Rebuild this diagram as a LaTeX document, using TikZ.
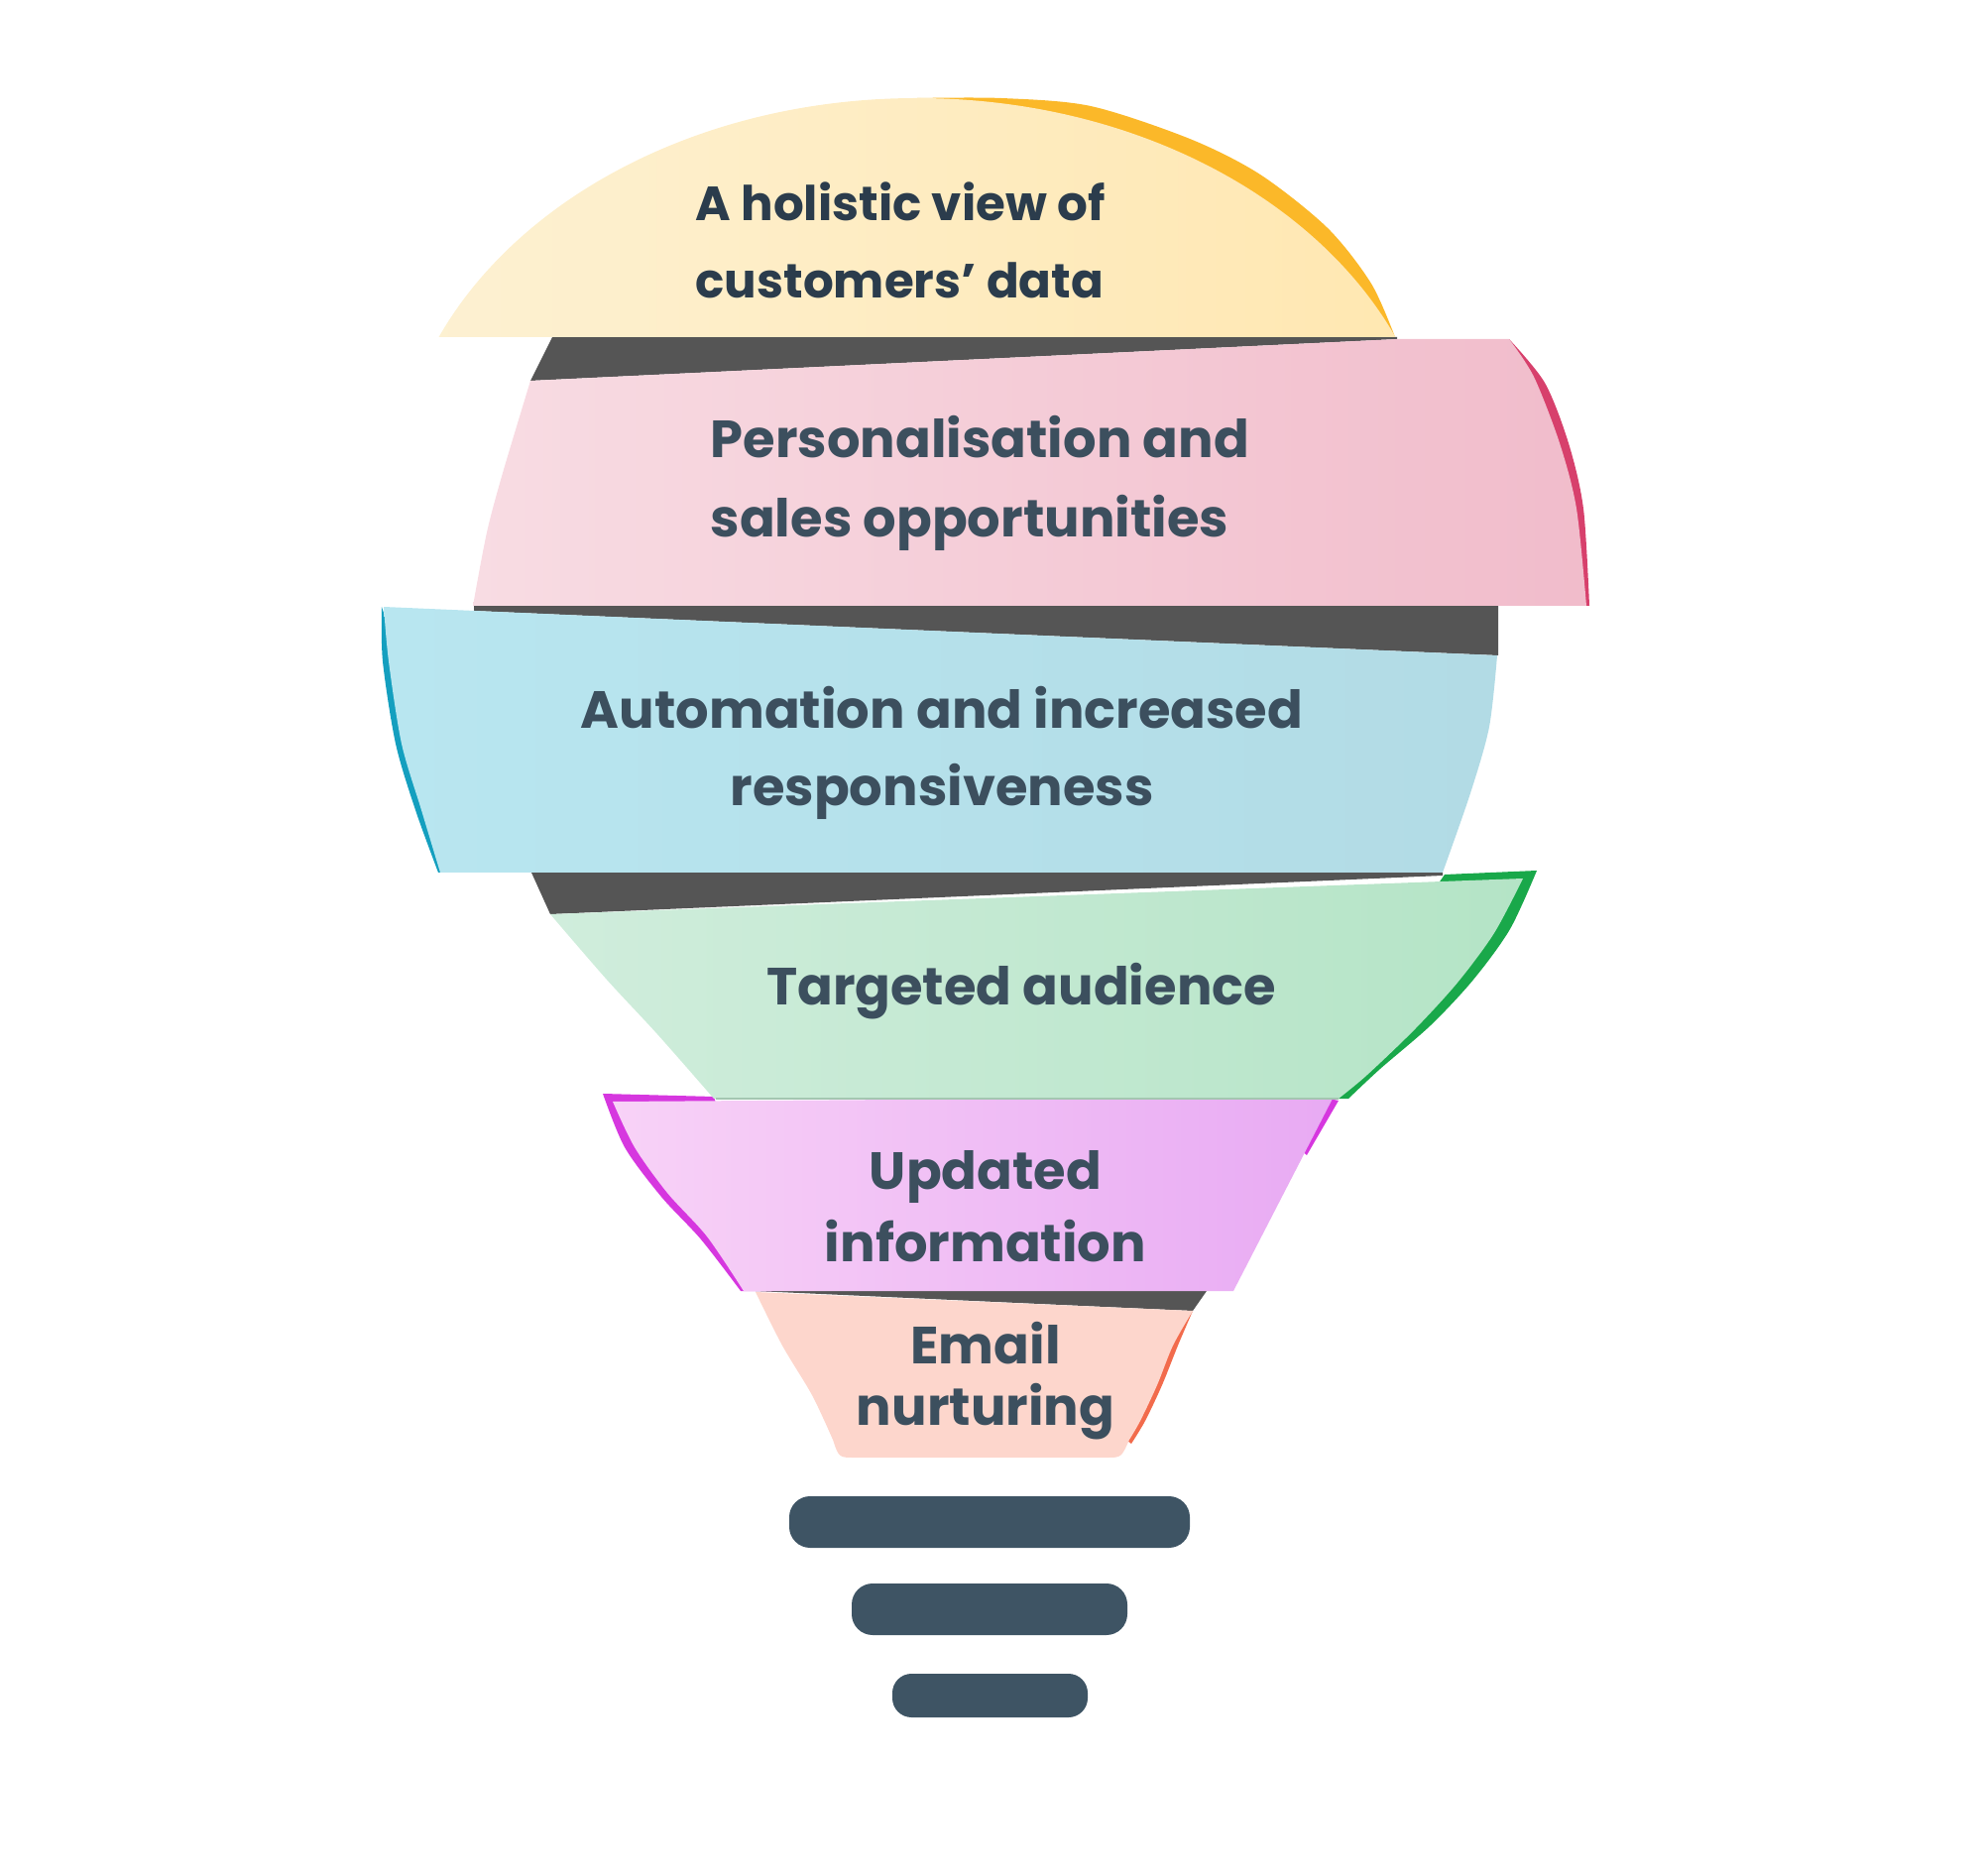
\documentclass[tikz,border=0pt]{standalone}
\usepackage{fontspec}
\setmainfont{Poppins}
\usepackage{xcolor}
\usepackage{tikz}

\definecolor{ink}{HTML}{3C4F5E}
\definecolor{inkdark}{HTML}{2B3C4C}
\definecolor{gapgray}{HTML}{555555}
\definecolor{basecol}{HTML}{3E5464}
\definecolor{yellowL}{HTML}{FDF1D3}
\definecolor{yellowR}{HTML}{FFE7B0}
\definecolor{yellowEdge}{HTML}{FBB829}
\definecolor{pinkL}{HTML}{F8DCE3}
\definecolor{pinkR}{HTML}{F1BCCB}
\definecolor{pinkEdge}{HTML}{D7406C}
\definecolor{blueL}{HTML}{B8E6F0}
\definecolor{blueR}{HTML}{B2DBE5}
\definecolor{blueEdge}{HTML}{149FBF}
\definecolor{greenL}{HTML}{D0EDDC}
\definecolor{greenR}{HTML}{B4E4C6}
\definecolor{greenEdge}{HTML}{19A84A}
\definecolor{purpleL}{HTML}{F8D2F7}
\definecolor{purpleR}{HTML}{E8AAF3}
\definecolor{purpleEdge}{HTML}{D637DF}
\definecolor{peach}{HTML}{FDD6CC}
\definecolor{peachEdge}{HTML}{F26B4C}

\begin{document}
\begin{tikzpicture}[x=0.01cm, y=-0.01cm,
    every node/.style={inner sep=0pt, text=ink},
    gap/.style={fill=gapgray},
    basebar/.style={fill=basecol, rounded corners=6pt},
    bandtext/.style 2 args={font={\bfseries\fontsize{#1}{#2}\selectfont}}]

    \useasboundingbox (0,0) rectangle (2000,1892);

    % Fughe scure
    \fill[gap] (557,340) -- (1409,340) -- (1409,342) -- (535,384) -- cycle;
    \fill[gap] (478,610) -- (1511,610) -- (1511,661) -- (478,616) -- cycle;
    \fill[gap] (536,880) -- (1455,880) -- (1455,883) -- (555,922) -- cycle;
    \fill[gap] (762,1302) -- (1217,1302) -- (1203,1322) -- cycle;

    % Calotta
    \fill[yellowEdge] plot[smooth] coordinates {(925,99) (1010,99) (1100,107) (1200,140) (1271,176) (1339,230) (1383,286) (1407,340)} -- (925,250) -- cycle;
    \begin{scope}
        \clip (0,0) rectangle (2000,340);
        \shade[left color=yellowL, right color=yellowR] (925,500) ellipse [x radius=526, y radius=401];
    \end{scope}

    % Rosa
    \fill[pinkEdge] (1522,342) -- plot[smooth] coordinates {(1522,342) (1558,386) (1582,447) (1597,513) (1603,611)} -- (1560,611) -- cycle;
    \shade[left color=pinkL, right color=pinkR] (535,384) -- (1409,342) -- (1522,342)
        -- plot[smooth] coordinates {(1522,342) (1547,380) (1573,447) (1590,513) (1600,611)}
        -- (477,611) -- plot[smooth] coordinates {(477,611) (491,537) (507,477) (535,384)} -- cycle;

    % Azzurro
    \fill[blueEdge] (385,612) -- plot[smooth] coordinates {(385,612) (386,667) (399,750) (419,817) (442,880)} -- (470,880) -- cycle;
    \shade[left color=blueL, right color=blueR] (387,612) -- (1510,661)
        -- plot[smooth] coordinates {(1510,661) (1502,733) (1483,800) (1455,880)}
        -- (444,880) -- plot[smooth] coordinates {(444,880) (425,817) (405,750) (392,667) (387,612)} -- cycle;

    % Viola
    \fill[purpleEdge] (720,1106) -- (608,1103) -- plot[smooth] coordinates {(608,1103) (630,1157) (667,1207) (707,1250) (747,1302)} -- (780,1302) -- cycle;
    \fill[purpleEdge] (1340,1108) -- (1350,1110) -- (1318,1165) -- (1312,1160) -- cycle;
    \shade[left color=purpleL, right color=purpleR] (618,1111) -- (1345,1106) -- (1244,1302) -- (750,1302)
        -- plot[smooth] coordinates {(750,1302) (713,1247) (673,1203) (640,1157) (618,1111)} -- cycle;

    % Verde
    \fill[greenEdge] (1457,882) -- (1550,878) -- plot[smooth] coordinates {(1550,878) (1523,937) (1486,988) (1443,1034) (1392,1078) (1360,1108)} -- (1300,1108) -- cycle;
    \shade[left color=greenL, right color=greenR] (555,922) -- (1536,886)
        -- plot[smooth] coordinates {(1536,886) (1507,941) (1470,991) (1427,1038) (1379,1084) (1350,1108)}
        -- (720,1108) -- plot[smooth] coordinates {(720,1108) (663,1043) (612,988) (555,922)} -- cycle;
    \draw[greenR!70!gray, line width=0.6pt] (722,1108) -- (1350,1108);

    % Pesca
    \fill[peachEdge] (1203,1322) -- plot[smooth] coordinates {(1203,1322) (1188,1357) (1172,1397) (1155,1433) (1141,1456)} -- (1120,1440) -- cycle;
    \fill[peach] (762,1303) -- (1203,1322)
        -- plot[smooth] coordinates {(1203,1322) (1183,1357) (1167,1397) (1150,1433) (1139,1452)}
        .. controls (1131,1470) .. (1116,1470) -- (862,1470) .. controls (846,1470) .. (840,1452)
        -- plot[smooth] coordinates {(840,1452) (819,1407) (789,1357) (762,1303)} -- cycle;

    % Attacco
    \fill[basebar] (796,1509) rectangle (1200,1561);
    \fill[basebar] (859,1597) rectangle (1137,1649);
    \fill[basebar, rounded corners=5.5pt] (900,1688) rectangle (1097,1732);

    % Testi
    \node[bandtext={13.75}{22.2}, text=inkdark, align=left, anchor=base west] (holistic) at (701,301) {A holistic view of\\customers’ data};
    \node[bandtext={15}{22.8}, align=left, anchor=base west] (personal) at (716,541.7) {Personalisation and\\sales opportunities};
    \node[bandtext={15}{22.2}, align=center, anchor=base] (automation) at (950,813) {Automation and increased\\responsiveness};
    \node[bandtext={15}{21}, anchor=base] (targeted) at (1030,1014) {Targeted audience};
    \node[bandtext={15}{20.5}, align=center, anchor=base] (updated) at (994,1272) {Updated\\information};
    \node[bandtext={15}{17.6}, align=center, anchor=base] (nurturing) at (994,1437) {Email\\nurturing};
\end{tikzpicture}
\end{document}
